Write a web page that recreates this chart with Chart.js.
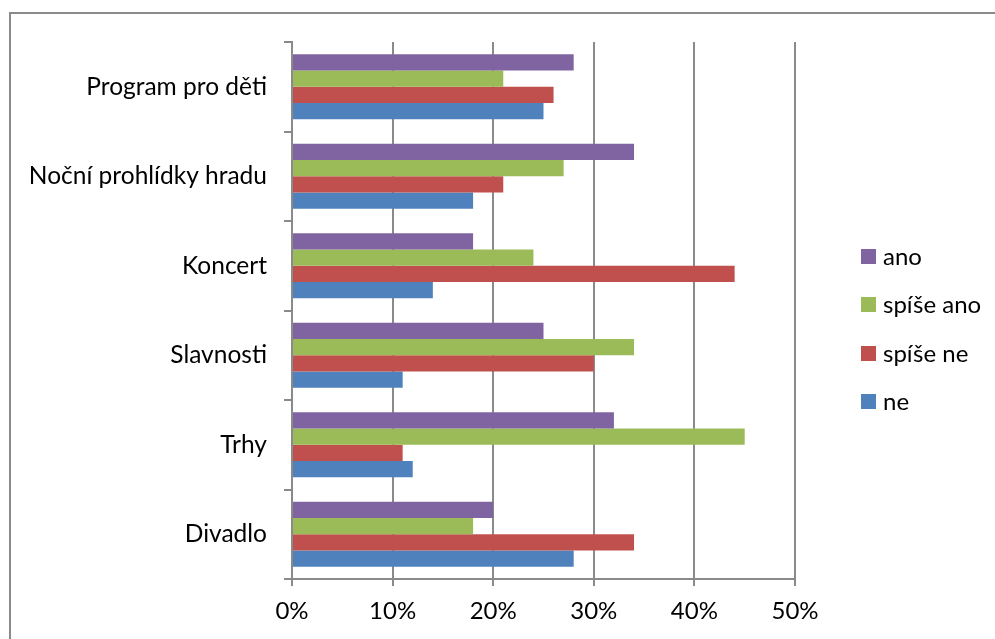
<!DOCTYPE html>
<html>
<head>
<meta charset="utf-8">
<script src="https://cdn.jsdelivr.net/npm/chart.js@4.4.1/dist/chart.umd.min.js"></script>
<style>
  html, body { margin: 0; padding: 0; background: #fff; }
  #wrap { position: relative; width: 995px; height: 639px; overflow: hidden; }
  #c { position: absolute; left: 0; top: 0; }
  .lg { position: absolute; font-family: Lato, "Open Sans", sans-serif; font-size: 24px; color: #000; white-space: nowrap; line-height: 24px; }
  .lg span.box { position: absolute; left: 0; top: 0px; width: 15px; height: 15px; }
  .lg span.txt { position: absolute; left: 22px; top: -5px; }
</style>
</head>
<body>
<div id="wrap">
  <canvas id="c" width="995" height="639"></canvas>
</div>
<script>
// ---- data ----
const categories = ["Program pro děti", "Noční prohlídky hradu", "Koncert", "Slavnosti", "Trhy", "Divadlo"];
const seriesNames = ["ano", "spíše ano", "spíše ne", "ne"];
const ano      = [28, 34, 18, 25, 32, 20];
const spiseAno = [21, 27, 24, 34, 45, 18];
const spiseNe  = [26, 21, 44, 30, 11, 34];
const ne       = [25, 18, 14, 11, 12, 28];
const xTicks = [0, 10, 20, 30, 40, 50];

const colors = ["#8064A2", "#9BBB59", "#C0504D", "#4F81BD"];
const seriesValues = [ano, spiseAno, spiseNe, ne];
const FONT = 'Lato, "Open Sans", sans-serif';
const GRID = '#8a8a8a';

const frame = {
  id: 'frame',
  beforeDraw(chart) {
    const ctx = chart.ctx;
    ctx.save();
    ctx.strokeStyle = '#8a8a8a';
    ctx.lineWidth = 2;
    ctx.beginPath();
    ctx.moveTo(10, 700);
    ctx.lineTo(10, 13);
    ctx.lineTo(1100, 13);
    ctx.stroke();
    ctx.restore();
  }
};

const chart = new Chart(document.getElementById('c'), {
  type: 'bar',
  data: {
    labels: categories,
    datasets: seriesNames.map((n, i) => ({
      label: n,
      data: seriesValues[i],
      backgroundColor: colors[i],
      borderWidth: 0,
      barPercentage: 1,
      categoryPercentage: 0.727
    }))
  },
  options: {
    indexAxis: 'y',
    responsive: false,
    animation: false,
    devicePixelRatio: 1,
    layout: { padding: { top: 42, right: 200, bottom: 0, left: 0 } },
    plugins: { legend: { display: false }, tooltip: { enabled: false } },
    scales: {
      x: {
        min: 0, max: 50,
        afterBuildTicks(scale) { scale.ticks = xTicks.map(v => ({ value: v })); },
        afterFit(scale) { scale.height = 60; },
        ticks: {
          callback: v => v + '%',
          font: { family: FONT, size: 24 },
          color: '#000',
          padding: 11,
          maxRotation: 0
        },
        grid: { color: GRID, lineWidth: 2, tickLength: 7, tickColor: GRID },
        border: { color: GRID, width: 2 }
      },
      y: {
        afterFit(scale) { scale.width = 292; },
        ticks: {
          font: { family: FONT, size: 24.5 },
          color: '#000',
          padding: 17
        },
        grid: { drawOnChartArea: false, color: GRID, lineWidth: 2, tickLength: 8, offset: true },
        border: { color: GRID, width: 2 }
      }
    }
  },
  plugins: [frame]
});

// HTML legend built from dataset names/colours
const wrap = document.getElementById('wrap');
const legendTops = [249, 297, 346, 394];
seriesNames.forEach((n, i) => {
  const d = document.createElement('div');
  d.className = 'lg';
  d.style.left = '861px';
  d.style.top = legendTops[i] + 'px';
  d.innerHTML = '<span class="box" style="background:' + colors[i] + '"></span><span class="txt">' + n + '</span>';
  wrap.appendChild(d);
});
</script>
</body>
</html>
